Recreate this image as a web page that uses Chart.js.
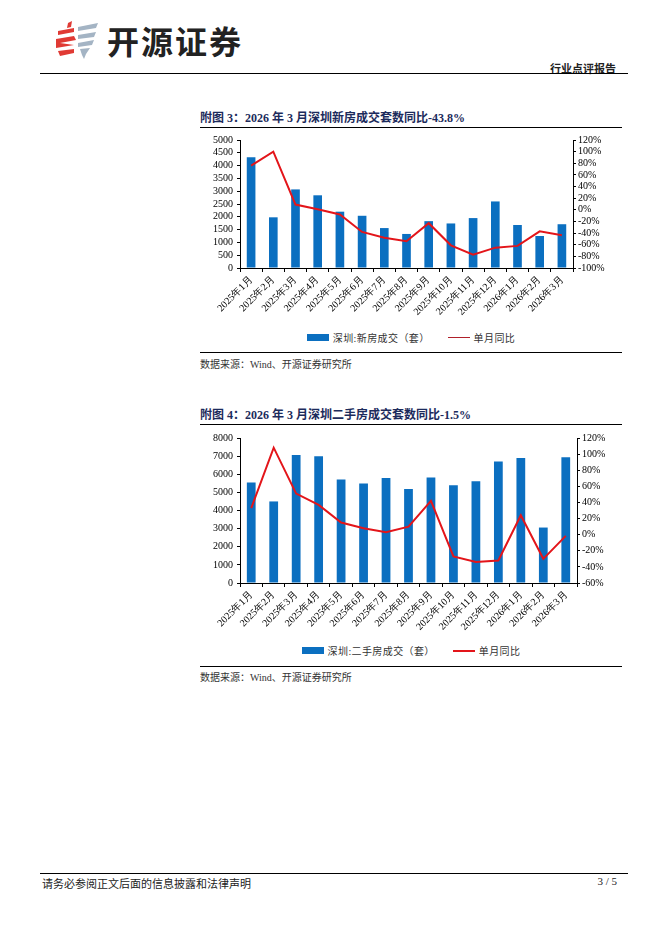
<!DOCTYPE html>
<html>
<head>
<meta charset="utf-8">
<script src="https://cdn.jsdelivr.net/npm/chart.js@4.4.1/dist/chart.umd.min.js"></script>
<style>
  body { margin: 0; background: #fff; }
  .page { position: relative; width: 662px; height: 936px; overflow: hidden; font-family: "Liberation Serif", "Noto Sans CJK SC", serif; color: #222; }
  .abs { position: absolute; }
  .rule { position: absolute; height: 1px; background: #000; }
  .title { font-size: 12px; font-weight: bold; color: #1c2b5c; white-space: nowrap; }
  .src { font-size: 10px; color: #333; white-space: nowrap; }
  .legend { position: absolute; display: flex; align-items: center; font-size: 10px; color: #333; letter-spacing: 0.4px; white-space: nowrap; }
  .legend .sw { display: inline-block; margin-right: 4px; }
  .legend .item { display: flex; align-items: center; margin: 0 9px; }
</style>
</head>
<body>
<div class="page">
  <!-- header -->
  <svg class="abs" style="left:54px;top:21px" width="48" height="40" viewBox="0 0 48 40">
    <polygon points="14,2 18,0 17,6 13,7" fill="#e03a34"/>
    <polygon points="4,10 20,7 20,11 4,14" fill="#e03a34"/>
    <polygon points="2,18 20,15 22,19 6,22 20,24 2,27" fill="#e03a34"/>
    <polygon points="4,30 20,28 20,32 6,35" fill="#e03a34"/>
    <polygon points="24,6 44,2 42,7 24,10" fill="#a4b4c4"/>
    <polygon points="24,14 42,11 40,16 24,18" fill="#a4b4c4"/>
    <polygon points="24,22 40,19 38,24 24,26" fill="#a4b4c4"/>
    <polygon points="26,28 36,27 32,33 30,38 28,34" fill="#a4b4c4"/>
  </svg>
  <div class="abs" style="left:107px;top:17px;font-family:'Noto Sans CJK SC',sans-serif;font-weight:bold;font-size:32px;color:#222;letter-spacing:2px;">开源证券</div>
  <div class="abs" style="right:46px;top:60px;font-family:'Noto Sans CJK SC',serif;font-weight:bold;font-size:11px;color:#222;">行业点评报告</div>
  <div class="rule" style="left:40px;width:588px;top:73px;"></div>

  <!-- figure 3 -->
  <div class="abs title" style="left:200px;top:108px;">附图 3：2026 年 3 月深圳新房成交套数同比-43.8%</div>
  <div class="rule" style="left:200px;width:422px;top:127px;"></div>
  <div class="abs" style="left:200px;top:130px;width:422px;height:195px;"><canvas id="chartNew"></canvas></div>
  <div class="legend" id="legendNew" style="left:200px;width:422px;top:330px;justify-content:center;"></div>
  <div class="rule" style="left:200px;width:422px;top:352px;"></div>
  <div class="abs src" style="left:200px;top:356px;">数据来源：Wind、开源证券研究所</div>

  <!-- figure 4 -->
  <div class="abs title" style="left:200px;top:405px;">附图 4：2026 年 3 月深圳二手房成交套数同比-1.5%</div>
  <div class="rule" style="left:200px;width:422px;top:424px;"></div>
  <div class="abs" style="left:200px;top:428px;width:422px;height:212px;"><canvas id="chartResale"></canvas></div>
  <div class="legend" id="legendResale" style="left:200px;width:422px;top:643px;justify-content:center;"></div>
  <div class="rule" style="left:200px;width:422px;top:666px;"></div>
  <div class="abs src" style="left:200px;top:669px;">数据来源：Wind、开源证券研究所</div>

  <!-- footer -->
  <div class="rule" style="left:40px;width:588px;top:873px;"></div>
  <div class="abs src" style="left:42px;top:875px;font-size:11px;color:#222;">请务必参阅正文后面的信息披露和法律声明</div>
  <div class="abs" style="right:45px;top:875px;font-size:11px;color:#222;">3 / 5</div>
</div>

<script>
const months = [
  "2025年1月", "2025年2月", "2025年3月", "2025年4月", "2025年5月",
  "2025年6月", "2025年7月", "2025年8月", "2025年9月", "2025年10月",
  "2025年11月", "2025年12月", "2026年1月", "2026年2月", "2026年3月",
];

// 深圳新房成交（套）与单月同比（%）
const newHomeSales = [4330, 1980, 3070, 2840, 2200, 2040, 1560, 1330, 1830, 1740, 1950, 2600, 1680, 1250, 1710];
const newHomeYoY = [76, 100, 9, 1, -8, -38, -48, -54, -23, -61, -77, -65, -62, -37, -43.8];

// 深圳二手房成交（套）与单月同比（%）
const resaleSales = [5540, 4500, 7060, 6990, 5710, 5490, 5800, 5190, 5820, 5390, 5610, 6700, 6900, 3060, 6940];
const resaleYoY = [33, 108, 51, 37, 15, 8, 3, 10, 42, -27, -34, -32, 24, -30, -1.5];

// axis ranges [min, max, step]
const newCountAxis = [0, 5000, 500];
const newPctAxis = [-100, 120, 20];
const resaleCountAxis = [0, 8000, 1000];
const resalePctAxis = [-60, 120, 20];

const BAR_BLUE = "#0b6fc0";
const LINE_RED = "#e3151a";
const tickFont = { family: "'Liberation Serif', 'Times New Roman', serif", size: 10 };

function makeChart(canvasId, legendId, barLabel, bars, yoy, countAxis, pctAxis, rightWidth, xHeight, legendLineW, legendLineColor) {
  const ctx = document.getElementById(canvasId).getContext("2d");
  const chart = new Chart(ctx, {
    data: {
      labels: months,
      datasets: [
        {
          type: "line",
          label: "单月同比",
          data: yoy,
          yAxisID: "y1",
          borderColor: LINE_RED,
          borderWidth: 2,
          pointRadius: 0,
          tension: 0,
          order: 0,
        },
        {
          type: "bar",
          label: barLabel,
          data: bars,
          yAxisID: "y",
          backgroundColor: BAR_BLUE,
          barPercentage: 0.39,
          categoryPercentage: 1,
          order: 1,
        },
      ],
    },
    options: {
      responsive: true,
      maintainAspectRatio: false,
      animation: false,
      layout: { padding: { top: 9, left: 0, right: 0, bottom: 0 } },
      plugins: { legend: { display: false }, tooltip: { enabled: false } },
      scales: {
        x: {
          offset: true,
          grid: { display: true, drawOnChartArea: false, drawTicks: true, tickLength: 4, color: "#000", offset: true },
          border: { display: true, color: "#000", width: 1 },
          ticks: { font: tickFont, color: "#000", minRotation: 45, maxRotation: 45, autoSkip: false, padding: 2 },
          afterFit(s) { s.height = xHeight; },
        },
        y: {
          position: "left",
          min: countAxis[0],
          max: countAxis[1],
          grid: { display: true, drawOnChartArea: false, drawTicks: true, tickLength: 3, color: "#000" },
          border: { display: true, color: "#000", width: 1 },
          ticks: { font: tickFont, color: "#000", stepSize: countAxis[2], padding: 4, autoSkip: false, callback: (v) => String(v) },
          afterFit(s) { s.width = 40; },
        },
        y1: {
          position: "right",
          min: pctAxis[0],
          max: pctAxis[1],
          grid: { display: true, drawOnChartArea: false, drawTicks: true, tickLength: 3, color: "#000" },
          border: { display: true, color: "#000", width: 1 },
          ticks: { font: tickFont, color: "#000", stepSize: pctAxis[2], padding: 2, autoSkip: false, callback: (v) => v + "%" },
          afterFit(s) { s.width = rightWidth; },
        },
      },
    },
  });

  // legend: bar series first, then line series
  const legend = document.getElementById(legendId);
  [chart.data.datasets[1], chart.data.datasets[0]].forEach((ds) => {
    const item = document.createElement("div");
    item.className = "item";
    const sw = document.createElement("span");
    sw.className = "sw";
    if (ds.type === "bar") {
      sw.style.cssText = `width:22px;height:7px;background:${ds.backgroundColor};`;
    } else {
      sw.style.cssText = `width:22px;height:${legendLineW}px;background:${legendLineColor};`;
    }
    item.appendChild(sw);
    item.appendChild(document.createTextNode(ds.label));
    legend.appendChild(item);
  });
  return chart;
}

makeChart("chartNew", "legendNew", "深圳:新房成交（套）", newHomeSales, newHomeYoY,
  newCountAxis, newPctAxis, 49, 57, 1, "#b0202a");
makeChart("chartResale", "legendResale", "深圳:二手房成交（套）", resaleSales, resaleYoY,
  resaleCountAxis, resalePctAxis, 45, 57, 2, LINE_RED);
</script>
</body>
</html>
